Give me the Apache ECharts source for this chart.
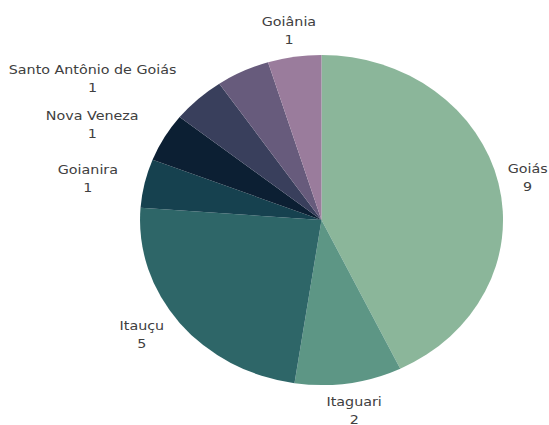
<!DOCTYPE html>
<html>
<head>
<meta charset="utf-8">
<script src="https://cdn.jsdelivr.net/npm/echarts@6/dist/echarts.min.js"></script>
<style>
  html, body { margin: 0; padding: 0; background: #ffffff; overflow: hidden; }
  #wrap { width: 549px; height: 425px; overflow: hidden; }
  #chart { width: 499px; height: 425px; transform: scaleX(1.1); transform-origin: 0 0; }
</style>
</head>
<body>
<div id="wrap"><div id="chart"></div></div>
<script>
// Data
const categories = ['Goiás', 'Itaguari', 'Itauçu', 'Goianira', 'Nova Veneza', 'Santo Antônio de Goiás', '', 'Goiânia'];
const values = [9, 2, 5, 1, 1, 1, 1, 1];

// Styles
const colors = ['#8bb69a', '#5d9685', '#2e6668', '#16414f', '#0c1f33', '#393f5c', '#675b7c', '#9a7c9c'];
const CX = 292.3, CY = 220, R = 165;

const total = values.reduce((a, b) => a + b, 0);

const chart = echarts.init(document.getElementById('chart'), null, { renderer: 'svg' });

const data = categories.map((name, i) => {
  const item = { name: name, value: values[i], itemStyle: { color: colors[i] } };
  if (!name) item.label = { show: false };
  return item;
});

chart.setOption({
  animation: false,
  backgroundColor: '#ffffff',
  series: [{
    type: 'pie',
    center: [CX, CY],
    radius: [0, R],
    startAngle: 90,
    clockwise: true,
    data: data,
    itemStyle: { borderWidth: 0 },
    emphasis: { disabled: true },
    label: {
      show: true,
      position: 'outside',
      formatter: '{b}\n{c}',
      fontFamily: 'DejaVu Sans',
      fontSize: 13,
      lineHeight: 18,
      color: '#404040',
      align: 'center',
      overflow: 'none'
    },
    labelLine: { show: false, length: 10, length2: 0 },
    labelLayout: function (params) {
      const i = params.dataIndex;
      let cum = 0;
      for (let k = 0; k < i; k++) cum += values[k];
      const a = (cum + values[i] / 2) / total * Math.PI * 2;
      const ux = Math.sin(a), uy = -Math.cos(a);
      const w = params.labelRect.width, h = params.labelRect.height;
      if (ux < -0.5) {
        const d = R + 23 - 8 * uy;
        return { x: CX + ux * d - w / 2, y: CY + uy * d, align: 'center', verticalAlign: 'middle' };
      }
      const d = R + 9;
      return { x: CX + ux * d + ux * w / 2, y: CY + uy * d + uy * h / 2, align: 'center', verticalAlign: 'middle' };
    }
  }]
});
</script>
</body>
</html>
